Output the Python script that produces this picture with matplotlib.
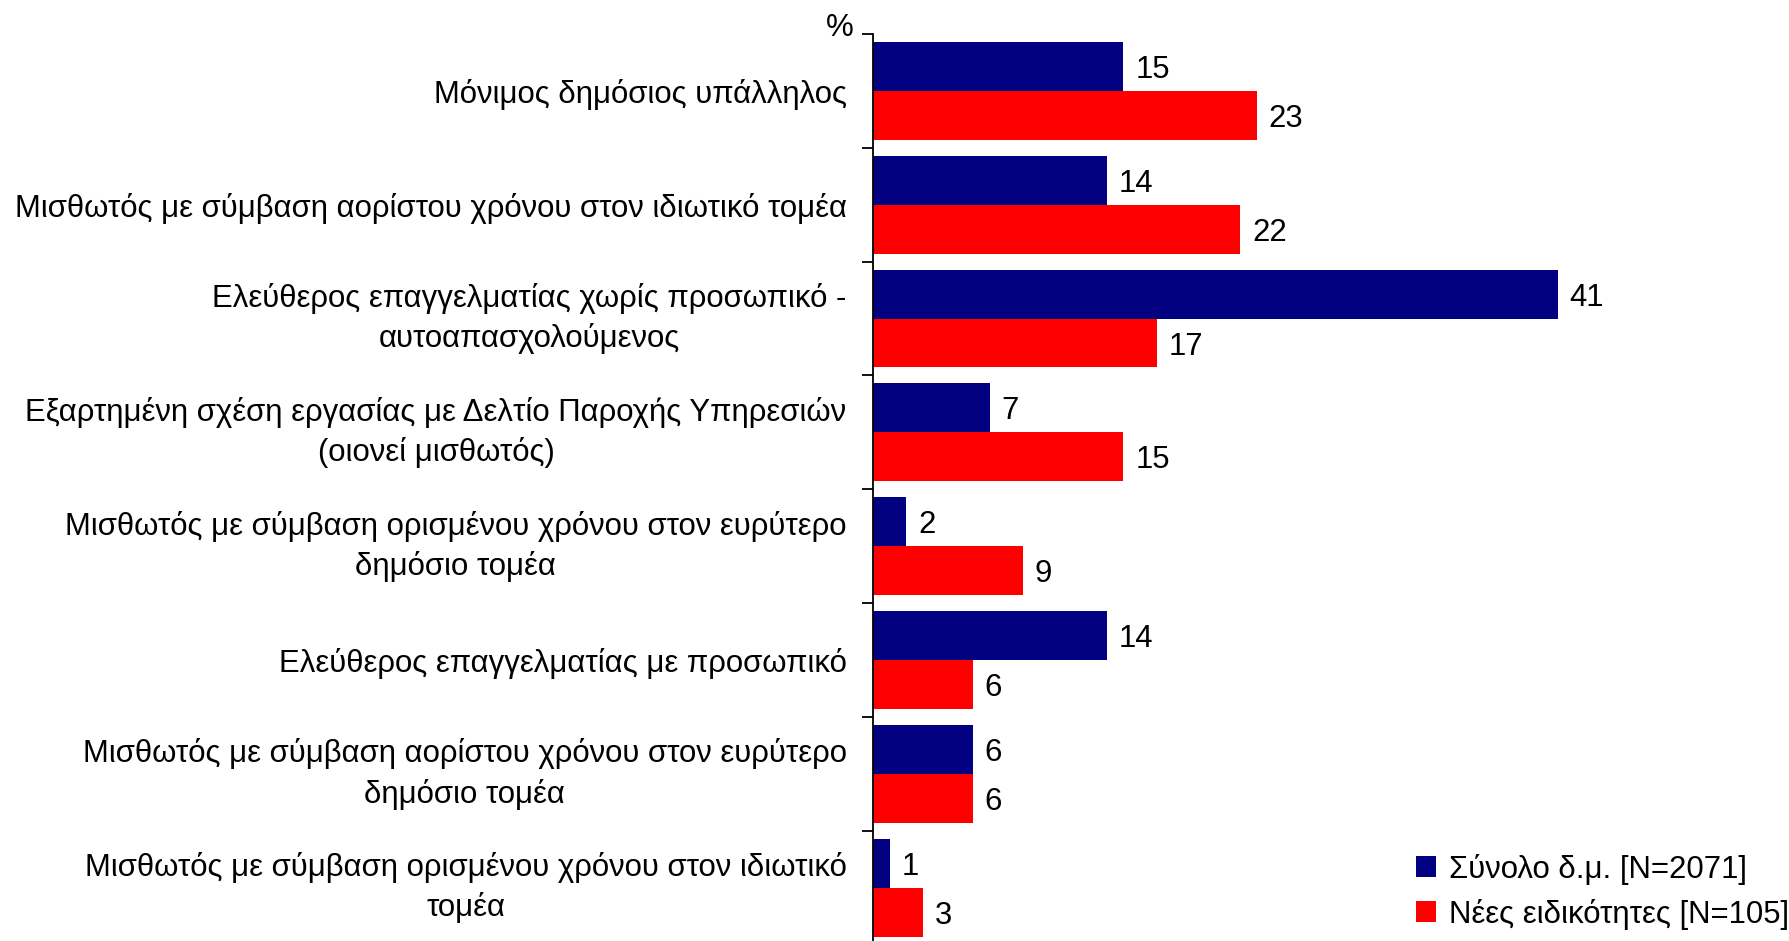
import numpy as np
import matplotlib.pyplot as plt

plt.rcParams['font.family'] = ['Liberation Sans', 'DejaVu Sans']

categories = [
    'Μόνιμος δημόσιος υπάλληλος',
    'Μισθωτός με σύμβαση αορίστου χρόνου στον ιδιωτικό τομέα',
    'Ελεύθερος επαγγελματίας χωρίς προσωπικό -\nαυτοαπασχολούμενος',
    'Εξαρτημένη σχέση εργασίας με Δελτίο Παροχής Υπηρεσιών\n(οιονεί μισθωτός)',
    'Μισθωτός με σύμβαση ορισμένου χρόνου στον ευρύτερο\nδημόσιο τομέα',
    'Ελεύθερος επαγγελματίας με προσωπικό',
    'Μισθωτός με σύμβαση αορίστου χρόνου στον ευρύτερο\nδημόσιο τομέα',
    'Μισθωτός με σύμβαση ορισμένου χρόνου στον ιδιωτικό\nτομέα',
]
total = [15, 14, 41, 7, 2, 14, 6, 1]
new_spec = [23, 22, 17, 15, 9, 6, 6, 3]
series_names = ['Σύνολο δ.μ. [N=2071]', 'Νέες ειδικότητες [N=105]']
colors = ['#000080', '#FF0000']

fig = plt.figure(figsize=(17.89, 9.41), dpi=100)
ax = fig.add_axes([873 / 1789, -0.004, 0.42, 0.968])

y = np.arange(len(categories))
h = 0.43
b1 = ax.barh(y - h / 2, total, height=h, color=colors[0], label=series_names[0])
b2 = ax.barh(y + h / 2, new_spec, height=h, color=colors[1], label=series_names[1])

fs = 22.4
for bars, vals in [(b1, total), (b2, new_spec)]:
    for bar, v in zip(bars, vals):
        ax.text(bar.get_width() + 0.7, bar.get_y() + bar.get_height() / 2, str(v),
                va='center_baseline', ha='left', fontsize=fs)

ax.set_xlim(0, 45)
ax.set_ylim(len(categories) - 0.5, -0.5)
ax.set_yticks(y)
ax.set_yticklabels(categories, fontsize=fs, multialignment='center', linespacing=1.38)
for lbl in ax.get_yticklabels():
    if '\n' in lbl.get_text():
        lbl.set_va('center')
ax.tick_params(axis='y', which='major', length=0, pad=19)
ax.set_yticks(np.arange(-0.5, len(categories), 1), minor=True)
ax.tick_params(axis='y', which='minor', length=8, width=1.3, direction='out')
ax.set_xticks([])
for s in ['top', 'right', 'bottom']:
    ax.spines[s].set_visible(False)
ax.spines['left'].set_linewidth(1.3)

fig.text(840 / 1789, 1 - 28 / 941, '%', fontsize=fs, ha='center', va='center')

fig.legend(handles=[b1, b2], loc='lower right', bbox_to_anchor=(1.0, 0.012),
           frameon=False, fontsize=fs, handlelength=0.65, handleheight=0.65,
           handletextpad=0.4, labelspacing=0.45, borderpad=0.0, borderaxespad=0.0)

fig.savefig('out.png', dpi=100)
